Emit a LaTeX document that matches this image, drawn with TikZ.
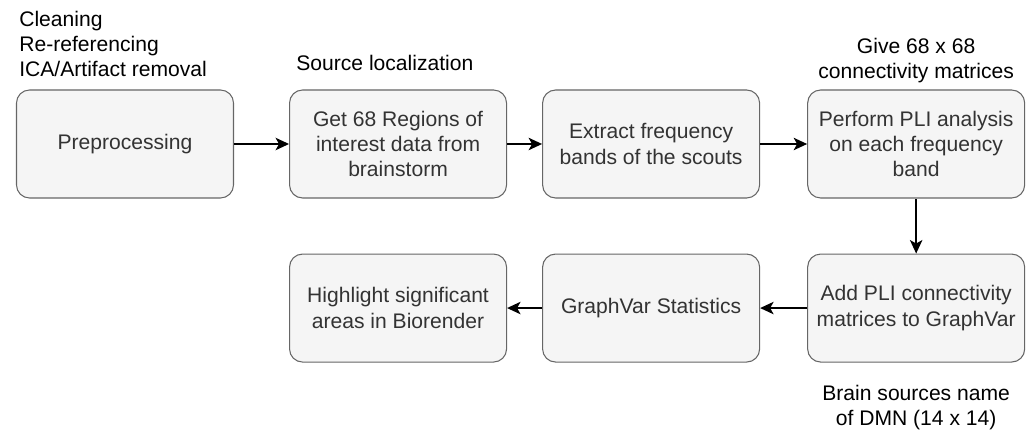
\documentclass[tikz,border=0pt]{standalone}
\usepackage{fontspec}
\setmainfont{Liberation Sans}
\usetikzlibrary{positioning}
\usetikzlibrary{arrows.meta}
\definecolor{boxfill}{HTML}{F5F5F5}
\definecolor{boxline}{HTML}{666666}
\definecolor{boxtext}{HTML}{333333}

\begin{document}
\begin{tikzpicture}[every node/.style = {font=\fontsize{12}{14.4}\selectfont},
  stage/.style = {shape=rectangle, draw=boxline, fill=boxfill, text=boxtext, rounded corners=0.26cm, line width=0.6pt, minimum width=4.34cm, minimum height=2.16cm, align=center, inner sep=0pt},
  note/.style = {inner sep=0pt, align=center},
  every edge/.style = {draw, line width=0.8pt},
  >={Stealth[length=0.27cm, width=0.25cm, inset=0.07cm]}]
  \useasboundingbox (0,0) rectangle (20.54,-8.64);
  \node (pre) [stage] at (2.5,-2.88) {Preprocessing};
  \node (roi) [stage, right=1.1cm of pre] {Get 68 Regions of\\interest data from\\brainstorm} edge [<-] (pre);
  \node (bands) [stage, right=0.7cm of roi] {Extract frequency\\bands of the scouts} edge [<-] (roi);
  \node (pli) [stage, right=0.94cm of bands] {Perform PLI analysis\\on each frequency\\band} edge [<-] (bands);
  \node (add) [stage, below=1.1cm of pli] {Add PLI connectivity\\matrices to GraphVar} edge [<-] (pli);
  \node (stats) [stage, left=0.94cm of add] {GraphVar Statistics} edge [<-] (add);
  \node (high) [stage, left=0.7cm of stats] {Highlight significant\\areas in Biorender} edge [<-] (stats);
  % notes over and under the steps
  \node (clean) [note, align=left, above right=0.24cm and 0.06cm of pre.north west] {Cleaning\\Re-referencing\\ICA/Artifact removal};
  \node (src) [note, above right=0.36cm and 0.14cm of roi.north west] {Source localization};
  \node (give) [note, above=0.12cm of pli] {Give 68 x 68\\connectivity matrices};
  \node (dmn) [note, below=0.44cm of add] {Brain sources name\\of DMN (14 x 14)};
\end{tikzpicture}
\end{document}
